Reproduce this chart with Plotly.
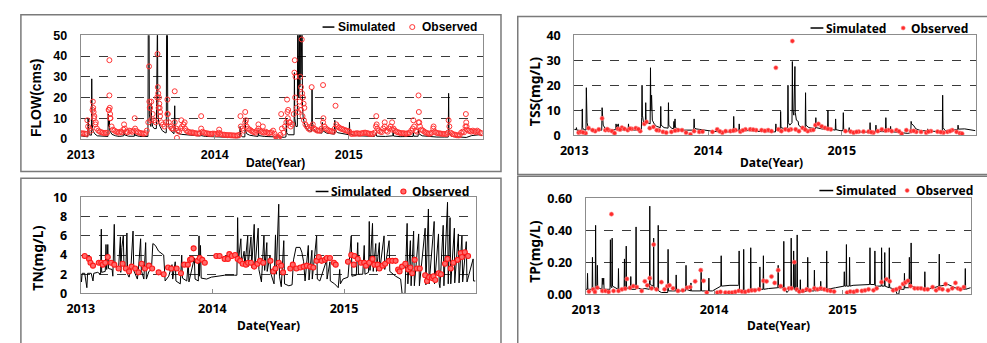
import pandas as pd
import plotly.graph_objects as go

W, H = 987, 343
START = pd.Timestamp("2013-01-01")
YEAR_TICKS = ["2013-01-01", "2014-01-01", "2015-01-01"]
YEAR_LABELS = ["2013", "2014", "2015"]

# ---------------- FLOW (cms) ----------------
flow_sim = [(0,1.5),(10,1.2),(19,1.0),(20,10),(21,3),(23,2),(29,1.8),(30,29),(31,8),(33,4),(38,2.5),(45,1.5),(60,1.2),
            (74,1.2),(75,12),(76,6),(78,9),(79,4),(85,2.2),(95,1.5),(105,1.2),(117,1.5),(118,4),(119,2),(130,1.3),
            (146,1.3),(147,3.5),(148,1.8),(160,1.2),(175,1.0),(183,1.2),(184,60),(186,60),(187,12),(189,8),(191,6),
            (192,17),(193,9),(196,6),(200,5),(206,5),(207,60),(209,60),(210,15),(212,8),(216,6),(222,4),(230,3),(233,3),
            (234,60),(236,60),(237,12),(240,6),(245,4),(250,3),(254,2.5),(256,16),(257,6),(260,3.5),(268,2.5),(275,2.2),
            (285,2),(300,1.6),(320,1.4),(326,1.4),(327,3.5),(328,1.6),(340,1.2),(360,1.0),(380,0.8),(400,0.6),(420,0.5),
            (433,0.6),(434,6),(435,2),(440,1),(447,1),(448,10),(449,4),(452,2.5),(460,1.8),(470,1.5),(483,1.2),(484,4),
            (485,1.6),(500,1.2),(520,1.0),(540,0.6),(555,0.8),(559,1.0),(560,10),(561,3),(565,2),(575,1.8),(581,2),
            (582,32),(583,10),(586,6),(590,6),(591,60),(594,20),(595,60),(597,25),(598,60),(600,30),(601,60),(603,60),
            (604,15),(606,10),(610,7),(615,5),(622,4),(629,3.5),(630,24),(631,8),(634,5),(640,3.5),(650,3),(657,2.8),
            (658,8),(659,4),(670,2.8),(680,2.5),(691,2.3),(692,9),(693,4),(700,3),(710,2.6),(720,2.3),(731,2),(732,8),
            (733,2.5),(745,1.6),(760,1.4),(780,1.2),(800,1.2),(805,3),(806,1.3),(830,1.2),(850,1.5),(851,4),(852,1.4),
            (870,1.1),(890,1.0),(905,1.2),(906,3),(907,1.3),(919,1.3),(920,4.5),(921,2.5),(930,1.5),(950,1.1),(970,0.9),
            (990,0.9),(1001,0.9),(1002,22),(1003,3),(1010,1.2),(1030,0.8),(1050,0.7),(1065,1.6),(1075,1.8),(1085,2),
            (1094,1.6)]

flow_obs = [(0,2.8),(4,2.6),(8,2.7),(12,2.5),(16,2.4),(20,6),(24,5),(28,4),(32,14),(36,10),(40,7),(44,5),(48,4),
            (52,3.5),(56,3.2),(60,3.0),(64,2.8),(68,2.9),(72,3),(76,14),(80,10),(84,6),(88,4.5),(92,4),(96,3.5),
            (100,3.3),(104,3.0),(108,3.5),(112,3.2),(116,4.5),(120,5),(124,3.5),(128,3.2),(132,4),(136,3.8),(140,3.4),
            (144,4),(148,5),(152,3.8),(156,3.2),(160,3),(164,2.8),(168,2.6),(172,2.5),(176,2.8),(180,4),(184,8),
            (188,15),(192,18),(196,12),(200,9),(204,8),(208,20),(212,15),(216,11),(220,8),(224,7),(228,6),(232,8),
            (236,12),(240,8),(244,6),(248,5),(252,5),(256,8),(260,5),(264,4),(268,3.5),(272,5),(276,6),(280,7),(284,5),
            (288,4),(292,3.5),(296,3.3),(300,3),(304,3.2),(308,2.9),(312,2.8),(316,2.6),(320,2.6),(324,2.8),(328,5),
            (332,3.5),(336,3),(340,2.8),(344,2.7),(348,2.5),(352,2.5),(356,2.4),(360,2.6),(364,2.5),(368,2.3),(372,2.3),
            (376,3),(380,2.4),(384,2.2),(388,2),(392,2),(396,1.9),(400,1.8),(404,1.8),(408,1.8),(412,1.7),(416,1.7),
            (420,1.6),(424,1.6),(428,1.7),(432,2),(436,6),(440,5),(444,4),(448,8),(452,6),(456,5),(460,4.5),(464,4),
            (468,3.5),(472,3.3),(476,3.0),(480,4),(484,5),(488,4),(492,3.5),(496,3.2),(500,3),(504,3.5),(508,3),
            (512,2.8),(516,3),(520,3.2),(524,4),(528,2.5),(532,1.2),(536,0.5),(540,0.8),(544,2),(548,5),(552,3),(556,6),
            (560,8),(564,10),(568,8),(572,6),(576,7),(580,12),(584,20),(588,15),(592,13),(596,18),(600,14),(604,11),
            (608,9),(612,7),(616,6),(620,5),(624,4.5),(628,6),(632,7),(636,5),(640,4.5),(644,4),(648,4),(652,4),(656,5),
            (660,8),(664,6),(668,5),(672,4.5),(676,4),(680,3.8),(684,3.7),(688,3.5),(692,5),(696,7),(700,6),(704,5.5),
            (708,5),(712,4.8),(716,4.5),(720,4.2),(724,4),(728,3.8),(732,3.5),(736,2.5),(740,2.4),(744,2.6),(748,2.5),
            (752,2.8),(756,2.6),(760,2.5),(764,2.7),(768,2.8),(772,3),(776,3),(780,2.8),(784,2.6),(788,2.5),(792,2.4),
            (796,2.5),(800,3),(804,6),(808,5),(812,4),(816,3.5),(820,3.3),(824,5),(828,6),(832,4),(836,3.5),(840,5),
            (844,6),(848,4.5),(852,5),(856,4),(860,3.5),(864,3.2),(868,3),(872,2.8),(876,2.7),(880,2.8),(884,2.5),
            (888,2.6),(892,2.8),(896,3),(900,4),(904,5),(908,6),(912,4),(916,3.5),(920,8),(924,6),(928,4.5),(932,4),
            (936,3.5),(940,3),(944,2.8),(948,2.5),(952,2.6),(956,3),(960,5),(964,3.5),(968,3),(972,2.8),(976,2.7),
            (980,2.6),(984,2.5),(988,2.4),(992,2.4),(996,2.3),(1000,3),(1004,6),(1008,3),(1012,2.4),(1016,2.2),
            (1020,2.0),(1024,1.8),(1028,1.7),(1032,1.8),(1036,3),(1040,3.5),(1044,3.2),(1048,6),(1052,4.5),(1056,4),
            (1060,3.8),(1064,3.5),(1068,4),(1072,3.6),(1076,3.3),(1080,4),(1084,3.5),(1088,3),(1092,2.8),
            (18,9),(33,18),(34,15),(35,13),(37,11),(41,8),(78,38),(78,21),(77,14),(79,15),(80,12),(81,10),(147,10),
            (118,7),(186,35),(187,18),(189,15),(191,9),(209,41),(210,25),(211,22),(213,20),(214,17),(215,15),(216,13),
            (236,19),(237,12),(256,23),(262,0.5),(274,9),(283,8),(328,11),(377,4.5),(435,11),(448,13),(450,9),(484,7),
            (496,6),(534,0.3),(538,0.6),(546,12),(562,19),(563,13),(565,14),(570,8),(582,32),(583,38),(585,30),
            (602,48),(598,30),(600,25),(603,22),(605,20),(607,17),(609,15),(629,25),(660,26),(661,10),(694,16),
            (805,11),(806,7),(828,8),(848,8),(906,9),(920,21),(921,13),(922,8),(961,6),(1002,9),(1049,12),(1050,8),
            (1051,6)]

# ---------------- TSS (mg/L) ----------------
tss_sim = [(0,2.3),(5,2.2),(6,3),(7,2),(21,1.8),(22,10.5),(23,3),(26,2.2),(32,2),(33,19),(34,6),(35,5),(38,3),(50,2),
           (70,1.8),(75,2),(76,11),(77,7),(78,10),(79,4),(85,2.5),(100,2),(113,2.2),(114,4.5),(116,3),(120,4.5),
           (122,2.5),(135,2),(147,2),(148,4.5),(149,2.3),(165,2),(183,2.2),(184,7),(185,20),(186,8),(188,6),(190,5),
           (194,4.5),(195,13),(196,6),(200,5),(204,4.5),(207,4.5),(208,27),(209,10),(211,16),(212,12),(213,6),
           (218,4.5),(225,3.5),(235,3),(236,11.5),(237,4),(245,3),(256,2.8),(257,13),(258,4),(265,2.8),(271,2.5),
           (272,5.5),(273,3),(275,6.5),(276,3),(285,2.3),(300,2),(326,2),(327,6.5),(328,3),(332,2.5),(345,2.2),
           (360,2),(380,1.5),(400,1.3),(420,1.2),(434,1.3),(435,7.5),(436,2.5),(440,2),(449,1.8),(450,4.5),(451,2),
           (465,1.8),(479,1.8),(480,3),(481,1.8),(500,1.5),(520,1.4),(540,1.3),(549,1.3),(550,4.5),(551,2),(562,2),
           (563,9.5),(564,3),(575,2.5),(582,3),(583,20),(584,5),(588,4),(594,5),(595,29.5),(596,10),(599,8),
           (602,27.5),(603,9),(606,6),(611,5.5),(612,4),(620,3),(630,2.8),(631,17),(632,4),(640,3),(650,2.7),
           (658,2.6),(659,7),(660,3),(675,2.5),(691,2.3),(692,10),(693,3),(705,2.2),(712,2),(713,6.5),(714,2.2),
           (725,1.8),(733,1.8),(734,9),(735,2.5),(745,1.5),(749,1.6),(750,3),(751,1.4),(770,1.2),(790,1.1),
           (806,1.2),(807,5),(808,1.5),(822,1.3),(823,4),(824,1.5),(840,1.4),(849,1.4),(850,7),(851,2),(862,1.6),
           (863,3.5),(864,1.4),(880,1.2),(900,1.0),(910,0.7),(918,1.0),(919,5.5),(920,4.5),(925,4),(932,2.5),
           (945,1.8),(963,1.7),(964,2.5),(965,1.6),(985,1.5),(1004,1.6),(1005,16),(1006,3),(1012,1.8),(1030,2),
           (1046,2.2),(1047,4),(1048,2.4),(1065,2.5),(1080,2.2),(1094,1.8)]

tss_obs = [(12,1.0),(18,1.3),(31,0.8),(39,2.8),(57,1.6),(67,2.3),(76,6.7),(85,2.0),(94,2.0),(103,1.6),(110,0.8),
           (119,2.5),(130,3.0),(137,2.5),(146,2.0),(157,2.5),(168,2.8),(180,1.6),(191,4.5),(197,5.3),(206,2.8),
           (216,3.3),(231,1.9),(242,1.3),(251,1.0),(265,1.3),(283,2.0),(294,2.0),(305,1.0),(317,0.3),(327,1.6),
           (341,1.3),(377,1.3),(390,2.3),(404,1.0),(413,1.6),(426,1.6),(440,2.0),(453,1.4),(467,2.3),(480,2.3),
           (496,2.0),(511,2.0),(529,2.0),(538,1.6),(550,27.0),(557,2.3),(565,1.6),(576,2.3),(591,2.3),(595,37.7),
           (604,2.3),(613,1.6),(623,2.9),(637,1.6),(646,2.0),(658,4.0),(666,4.5),(675,3.5),(684,2.9),(700,2.3),
           (740,1.6),(754,1.4),(762,1.0),(776,1.4),(789,1.4),(803,1.4),(816,1.0),(828,1.6),(839,2.3),(857,2.0),
           (866,1.6),(879,2.0),(893,0.6),(906,2.0),(919,1.6),(933,1.3),(946,1.3),(960,1.0),(973,1.6),(991,1.4),
           (1007,1.0),(1018,1.3),(1031,2.0),(1043,1.3),(1052,0.8),(1058,0.6),
           (24,1.1),(50,2.0),(90,2.4),(125,2.2),(152,2.6),(175,2.4),(225,2.0),(275,1.8),(350,1.4),(397,1.5),
           (434,1.8),(460,1.9),(488,2.2),(520,1.7),(585,2.0),(630,2.2),(652,2.1),(692,2.5),(770,1.3),(810,1.2),
           (850,1.8),(886,1.5),(926,1.7),(966,1.4),(1000,1.2),(1025,1.6)]

# ---------------- TN (mg/L) ----------------
tn_sim = [(0,2.0),(2,1.2),(4,2.1),(11,2.1),(17,0.6),(19,2.1),(29,2.1),(34,1.3),(36,2.1),(47,2.2),(55,2.0),(57,6.7),
          (58,2.2),(68,2.3),(70,5.1),(72,2.5),(75,5.1),(77,2.6),(87,2.5),(89,1.8),(93,7.2),(95,2.8),(105,2.7),
          (110,5.9),(111,2.2),(114,4.8),(118,6.0),(120,2.6),(125,2.4),(128,6.3),(130,2.0),(134,1.7),(139,2.6),
          (145,6.5),(147,2.4),(157,1.5),(160,2.5),(166,5.7),(168,2.4),(175,1.5),(180,5.3),(182,1.5),(189,2.3),
          (196,2.5),(200,5.2),(207,5.0),(216,4.4),(230,4.0),(234,1.3),(244,1.8),(253,3.0),(255,1.5),(262,3.3),
          (264,1.3),(276,1.0),(280,4.0),(282,1.6),(294,1.3),(298,3.3),(300,1.2),(315,3.7),(317,1.5),(326,1.3),
          (328,6.0),(329,1.8),(332,5.0),(334,1.6),(349,1.5),(362,1.7),(399,1.9),(426,1.9),(433,1.9),(435,7.9),
          (437,3.3),(444,5.7),(446,3.0),(453,4.4),(455,2.8),(463,6.0),(464,2.8),(472,5.9),(474,2.7),(481,7.2),
          (483,2.6),(492,6.8),(494,2.5),(501,1.2),(508,6.0),(510,2.4),(516,5.3),(517,2.3),(525,4.0),(526,2.2),
          (536,1.0),(540,6.1),(542,2.0),(549,9.3),(551,1.8),(556,0.7),(563,5.5),(565,1.0),(577,0.8),(586,0.9),
          (590,3.5),(597,4.8),(608,4.8),(613,4.3),(618,3.3),(622,1.3),(631,5.0),(633,1.4),(641,4.5),(642,1.5),
          (654,6.0),(656,1.5),(663,1.3),(682,3.5),(683,1.5),(691,3.3),(692,1.3),(704,1.0),(714,0.6),(718,2.5),
          (720,1.0),(727,1.5),(741,1.7),(750,6.0),(752,1.8),(764,1.9),(768,5.3),(770,2.0),(782,2.0),(786,5.0),
          (788,2.0),(798,2.2),(800,7.5),(802,2.4),(809,7.3),(811,2.3),(818,5.2),(820,2.3),(828,5.3),(829,2.4),
          (841,6.0),(843,2.5),(855,5.5),(857,2.3),(873,1.8),(887,1.5),(891,0.0),(899,0.0),(900,1.0),(905,7.3),
          (907,1.0),(914,5.5),(916,0.8),(923,6.5),(925,0.8),(937,6.2),(939,0.8),(955,6.8),(957,0.9),(964,8.8),
          (966,1.0),(980,7.5),(981,1.0),(992,6.2),(994,1.0),(996,0.6),(1005,7.1),(1007,0.8),(1017,9.5),(1019,1.0),
          (1024,7.9),(1026,1.0),(1036,6.8),(1037,1.1),(1047,6.2),(1049,1.1),(1057,6.0),(1059,1.2),(1069,5.4),
          (1071,1.2),(1088,3.6),(1089,1.3),(1094,1.3)]

tn_obs = [(11,3.9),(23,3.6),(27,3.2),(34,2.9),(50,3.2),(57,3.2),(61,3.0),(68,3.2),(75,3.8),(84,3.2),(93,3.0),
          (105,2.6),(116,3.1),(125,2.6),(134,2.3),(141,2.8),(151,2.6),(160,2.2),(169,3.1),(178,2.6),(189,2.9),
          (198,2.6),(216,2.2),(230,2.0),(242,2.7),(251,2.6),(266,2.6),(278,2.1),(287,3.0),(297,3.0),(303,3.5),
          (307,3.6),(313,4.7),(324,3.4),(330,3.7),(337,3.5),(344,3.2),(376,3.9),(385,3.9),(399,3.6),(408,3.6),
          (412,4.1),(419,3.9),(428,4.0),(435,3.6),(442,3.4),(449,3.1),(458,3.0),(464,3.2),(472,3.2),(481,2.8),
          (490,3.1),(497,3.4),(506,3.2),(526,3.4),(534,2.3),(540,2.6),(549,3.2),(556,2.9),(561,2.2),(581,2.6),
          (588,3.0),(598,2.6),(609,2.7),(618,2.8),(627,2.9),(636,2.8),(645,2.7),(654,3.4),(660,3.8),(668,3.4),
          (677,3.5),(682,3.7),(691,3.7),(702,3.2),(707,3.0),(741,3.3),(750,4.0),(759,3.9),(757,3.0),(768,3.6),
          (777,3.2),(786,3.2),(791,2.9),(800,3.2),(809,3.6),(814,3.0),(823,3.0),(828,2.6),(837,2.9),(844,3.1),
          (855,3.4),(864,3.4),(873,3.4),(880,2.5),(884,2.3),(891,2.8),(900,3.1),(908,2.5),(914,2.7),(919,2.1),
          (926,3.5),(932,2.6),(940,2.6),(955,1.9),(960,1.3),(966,1.7),(974,1.6),(978,1.8),(983,1.4),(992,2.1),
          (999,2.0),(1010,3.1),(1017,3.6),(1026,2.6),(1033,3.2),(1045,3.5),(1054,4.2),(1057,3.8),(1065,4.3),
          (1074,3.9)]

# ---------------- TP (mg/L) ----------------
tp_sim = [(0,0.03),(4,0.03),(5,0.13),(6,0.03),(18,0.03),(19,0.23),(20,0.04),(27,0.03),(28,0.43),(29,0.06),(32,0.04),
          (33,0.18),(34,0.04),(46,0.03),(47,0.10),(49,0.06),(51,0.10),(52,0.03),(69,0.03),(70,0.34),(71,0.05),
          (74,0.04),(75,0.35),(76,0.05),(92,0.03),(93,0.16),(94,0.03),(109,0.03),(110,0.22),(111,0.04),(114,0.04),
          (115,0.30),(116,0.04),(127,0.03),(128,0.11),(129,0.03),(142,0.03),(143,0.42),(144,0.04),(160,0.03),
          (168,0.035),(181,0.03),(182,0.55),(183,0.06),(192,0.05),(193,0.35),(194,0.04),(205,0.03),(206,0.43),
          (207,0.02),(215,0.01),(233,0.01),(234,0.28),(235,0.02),(256,0.02),(257,0.12),(258,0.02),(284,0.02),
          (285,0.18),(286,0.03),(298,0.02),(299,0.07),(300,0.02),(327,0.02),(328,0.15),(329,0.02),(349,0.02),
          (350,0.10),(351,0.02),(360,0.02),(384,0.05),(385,0.24),(386,0.05),(410,0.055),(434,0.055),(435,0.06),
          (436,0.27),(437,0.02),(448,0.02),(449,0.28),(450,0.02),(468,0.025),(469,0.29),(470,0.03),(494,0.03),
          (495,0.17),(496,0.03),(504,0.03),(505,0.24),(506,0.03),(520,0.035),(546,0.04),(547,0.18),(548,0.04),
          (562,0.04),(563,0.33),(564,0.04),(572,0.01),(583,0.04),(584,0.35),(585,0.04),(590,0.04),(591,0.27),
          (592,0.03),(594,0.03),(595,0.20),(596,0.02),(600,0.02),(601,0.37),(602,0.02),(609,0.01),(610,0.09),
          (611,0.01),(630,0.02),(631,0.23),(632,0.02),(649,0.02),(650,0.15),(651,0.02),(667,0.025),(668,0.08),
          (669,0.025),(684,0.03),(685,0.27),(686,0.03),(710,0.04),(734,0.05),(735,0.14),(736,0.05),(740,0.05),
          (741,0.31),(742,0.05),(749,0.05),(750,0.23),(751,0.05),(760,0.055),(800,0.06),(807,0.06),(808,0.29),
          (809,0.06),(821,0.06),(822,0.27),(823,0.05),(840,0.05),(841,0.29),(842,0.05),(849,0.05),(850,0.26),
          (851,0.05),(862,0.04),(863,0.29),(864,0.04),(880,0.03),(885,0.0),(890,0.0),(892,0.03),(905,0.03),
          (906,0.13),(907,0.04),(919,0.04),(920,0.23),(921,0.05),(924,0.05),(925,0.32),(926,0.05),(940,0.04),
          (963,0.03),(964,0.14),(965,0.03),(990,0.04),(1004,0.05),(1005,0.25),(1006,0.05),(1030,0.06),
          (1050,0.04),(1078,0.03),(1079,0.16),(1080,0.03),(1094,0.04)]

tp_obs = [(9,0.016),(21,0.03),(26,0.014),(33,0.04),(47,0.02),(56,0.02),(65,0.014),(73,0.50),(79,0.02),(93,0.02),
          (103,0.03),(112,0.034),(117,0.095),(126,0.04),(135,0.05),(145,0.044),(159,0.02),(168,0.08),(175,0.055),
          (182,0.10),(187,0.036),(193,0.31),(201,0.03),(215,0.075),(224,0.03),(232,0.05),(238,0.055),(248,0.036),
          (262,0.02),(276,0.024),(288,0.04),(297,0.044),(311,0.08),(327,0.15),(335,0.083),(344,0.01),(374,0.01),
          (383,0.014),(397,0.01),(407,0.01),(416,0.01),(425,0.014),(435,0.02),(444,0.016),(453,0.014),(463,0.02),
          (472,0.024),(481,0.024),(493,0.03),(505,0.083),(514,0.08),(528,0.11),(537,0.07),(547,0.15),(554,0.05),
          (565,0.03),(578,0.036),(585,0.036),(593,0.20),(600,0.03),(607,0.016),(617,0.02),(628,0.03),(637,0.024),
          (650,0.036),(659,0.03),(668,0.036),(678,0.03),(687,0.024),(696,0.02),(706,0.016),(743,0.01),(752,0.016),
          (762,0.014),(771,0.02),(785,0.02),(794,0.024),(804,0.03),(818,0.024),(827,0.036),(841,0.075),
          (855,0.093),(864,0.08),(874,0.024),(883,0.03),(893,0.04),(902,0.063),(909,0.073),(916,0.083),
          (923,0.05),(935,0.036),(944,0.036),(953,0.036),(963,0.03),(972,0.03),(986,0.044),(996,0.024),
          (1005,0.036),(1014,0.03),(1023,0.063),(1030,0.024),(1042,0.036),(1051,0.07),(1058,0.036),(1065,0.03),
          (1075,0.044)]

# ---------------- helpers ----------------
def unzip(pairs):
    days = [p[0] for p in pairs]
    vals = [p[1] for p in pairs]
    dates = START + pd.to_timedelta(days, unit="D")
    return dates, vals

def px(x):
    return x / W

def py(y):
    return 1 - y / H

ARIAL = "Liberation Sans, Arial, sans-serif"
NOTO = "Noto Sans, Open Sans, sans-serif"
RED = "#ff2b2b"

panels = [
    dict(sim=flow_sim, obs=flow_obs, ytitle="FLOW(cms)", yr=[0, 50], dt=10, fmt="d",
         dom=(67.7, 475.5, 27.7, 136.7), font=ARIAL,
         mk=dict(symbol="circle-open", size=5, color="#ff3535", line=dict(width=1, color="#ff3535")),
         frame=(7, 494, 6, 171), ytx=23, yty=93, xtx=265, xty=162,
         leg=dict(l0=313, l1=325, ly=19, st=327, mx=404, ot=412, mk="open", r=2.6)),
    dict(sim=tss_sim, obs=tss_obs, ytitle="TSS(mg/L)", yr=[0, 40], dt=10, fmt="d",
         dom=(568.3, 975.5, 27.7, 132.7), font=NOTO,
         mk=dict(symbol="circle", size=4.2, color=RED, line=dict(width=0.6, color="#ff8a8a")),
         frame=(511, 1000, 8, 174), ytx=528, yty=87, xtx=768, xty=162,
         leg=dict(l0=808, l1=821, ly=20, st=822, mx=902, ot=908, mk="fill", r=2.1)),
    dict(sim=tn_sim, obs=tn_obs, ytitle="TN(mg/L)", yr=[0, 10], dt=2, fmt="d",
         dom=(67.7, 468.3, 198.3, 299.3), font=NOTO,
         mk=dict(symbol="circle", size=5, color="#ff6a6a", line=dict(width=1.1, color="#ff1a1a")),
         frame=(7, 494, 178, 400), ytx=23, yty=262, xtx=258, xty=333,
         leg=dict(l0=306, l1=319, ly=192, st=320, mx=395, ot=402, mk="ring", r=2.6)),
    dict(sim=tp_sim, obs=tp_obs, ytitle="TP(mg/L)", yr=[0, 0.6], dt=0.2, fmt=".2f",
         dom=(580, 970.7, 199, 300), font=NOTO,
         mk=dict(symbol="circle", size=4.2, color=RED, line=dict(width=0.6, color="#ff8a8a")),
         frame=(511, 1000, 176, 400), ytx=528, yty=255, xtx=775, xty=333,
         leg=dict(l0=817, l1=831, ly=191, st=832, mx=906, ot=913, mk="fill", r=2.1)),
]

fig = go.Figure()
shapes = []
annotations = []

for i, p in enumerate(panels, start=1):
    xa = "x" if i == 1 else f"x{i}"
    ya = "y" if i == 1 else f"y{i}"
    xkey = "xaxis" if i == 1 else f"xaxis{i}"
    ykey = "yaxis" if i == 1 else f"yaxis{i}"

    sd, sv = unzip(p["sim"])
    od, ov = unzip(p["obs"])
    fig.add_trace(go.Scatter(x=sd, y=sv, mode="lines", line=dict(color="black", width=1),
                             xaxis=xa, yaxis=ya, showlegend=False, name="Simulated"))
    fig.add_trace(go.Scatter(x=od, y=ov, mode="markers", marker=p["mk"],
                             xaxis=xa, yaxis=ya, showlegend=False, name="Observed"))

    x0, x1, y0, y1 = p["dom"]
    fig.layout[xkey] = dict(
        domain=[px(x0), px(x1)], anchor=ya, type="date",
        range=["2013-01-01", "2016-01-01"],
        tickmode="array", tickvals=YEAR_TICKS, ticktext=YEAR_LABELS,
        ticks="inside", ticklen=4, tickcolor="#8c8c8c",
        showgrid=False, zeroline=False,
        showline=True, mirror=True, linecolor="#8c8c8c", linewidth=1,
        tickfont=dict(family=p["font"], size=12.5, color="black", weight="bold"),
        ticklabelstandoff=4,
    )
    fig.layout[ykey] = dict(
        domain=[py(y1), py(y0)], anchor=xa,
        range=p["yr"], dtick=p["dt"], tick0=0, tickformat=p["fmt"],
        showgrid=True, gridcolor="#3a3a3a", griddash="dash", gridwidth=0.8,
        zeroline=False, ticks="",
        showline=True, mirror=True, linecolor="#8c8c8c", linewidth=1,
        tickfont=dict(family=p["font"], size=12.5, color="black", weight="bold"),
        ticklabelstandoff=10,
    )

    fx0, fx1, fy0, fy1 = p["frame"]
    shapes.append(dict(type="rect", xref="paper", yref="paper",
                       x0=px(fx0), x1=px(fx1), y0=py(fy1), y1=py(fy0),
                       line=dict(color="#7a7a7a", width=1.5), fillcolor="rgba(0,0,0,0)", layer="below"))

    annotations.append(dict(text=p["ytitle"], xref="paper", yref="paper", x=px(p["ytx"]), y=py(p["yty"]),
                            textangle=-90, showarrow=False, xanchor="center", yanchor="middle",
                            font=dict(family=p["font"], size=14, color="black", weight="bold")))
    annotations.append(dict(text="Date(Year)", xref="paper", yref="paper", x=px(p["xtx"]), y=py(p["xty"]),
                            showarrow=False, xanchor="center", yanchor="middle",
                            font=dict(family=p["font"], size=12, color="black", weight="bold")))

    lg = p["leg"]
    shapes.append(dict(type="line", xref="paper", yref="paper", x0=px(lg["l0"]), x1=px(lg["l1"]),
                       y0=py(lg["ly"]), y1=py(lg["ly"]), line=dict(color="black", width=1.5)))
    r = lg["r"]
    if lg["mk"] == "open":
        mline, mfill = dict(color="#ff3535", width=1), "rgba(0,0,0,0)"
    elif lg["mk"] == "ring":
        mline, mfill = dict(color="#ff1a1a", width=1.1), "#ff6a6a"
    else:
        mline, mfill = dict(color="#ff8a8a", width=0.6), RED
    shapes.append(dict(type="circle", xref="paper", yref="paper",
                       x0=px(lg["mx"] - r), x1=px(lg["mx"] + r), y0=py(lg["ly"] + r), y1=py(lg["ly"] - r),
                       line=mline, fillcolor=mfill))
    annotations.append(dict(text="Simulated", xref="paper", yref="paper", x=px(lg["st"]), y=py(lg["ly"]),
                            showarrow=False, xanchor="left", yanchor="middle",
                            font=dict(family=p["font"], size=12, color="black", weight="bold")))
    annotations.append(dict(text="Observed", xref="paper", yref="paper", x=px(lg["ot"]), y=py(lg["ly"]),
                            showarrow=False, xanchor="left", yanchor="middle",
                            font=dict(family=p["font"], size=12, color="black", weight="bold")))

fig.update_layout(
    width=W, height=H, autosize=False,
    margin=dict(l=0, r=0, t=0, b=0),
    paper_bgcolor="white", plot_bgcolor="white",
    showlegend=False,
    shapes=shapes, annotations=annotations,
)

fig.write_html("out.html")
